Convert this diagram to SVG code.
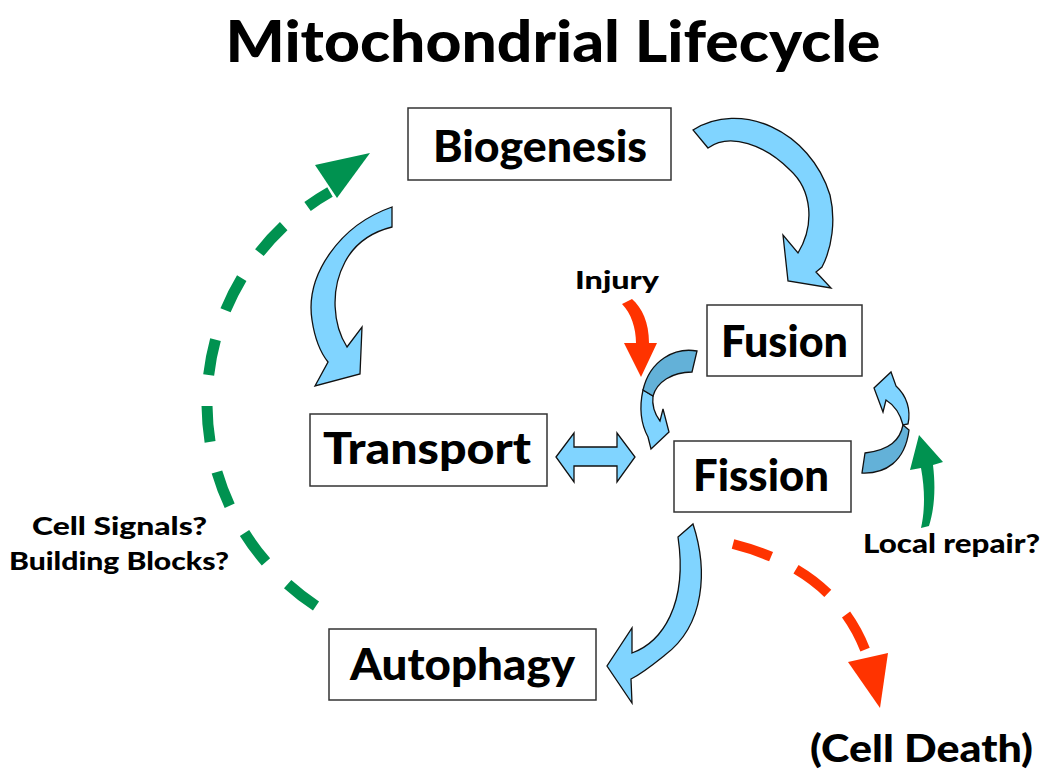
<svg xmlns="http://www.w3.org/2000/svg" width="1050" height="776" viewBox="0 0 1050 776">
<defs>
<style>
.box{fill:#ffffff;stroke:#333333;stroke-width:1.5}
.lbl{font-family:"Comic Sans MS","Lato","DejaVu Sans",sans-serif;font-weight:900;fill:#000000;text-anchor:middle}
.node{font-size:44px}
.small{font-size:25px}
.blue{fill:#80d4ff;stroke:#111111;stroke-width:1.3;stroke-linejoin:miter}
.blued{fill:#63b1d8;stroke:#111111;stroke-width:1.3}
.red{fill:#ff3300}
.green{fill:#009250}
.dashr{fill:none;stroke:#ff3300;stroke-width:10;stroke-dasharray:40 28}
.dashg{fill:none;stroke:#009250;stroke-width:11;stroke-dasharray:36 31}
</style>
</defs>
<rect width="1050" height="776" fill="#ffffff"/>
<text class="lbl" x="553" y="62" font-size="58" textLength="655" lengthAdjust="spacingAndGlyphs">Mitochondrial Lifecycle</text>

<g id="connectors">
  <!-- Biogenesis -> Fusion -->
  <path class="blue" d="M 693,130 C 740,100 810,130 830,195 C 836,220 832,248 822,267 L 816,272 L 831,288 L 788,281 L 783,235 L 798,253 C 815,225 812,190 790,170 C 765,145 730,132 708,148 Z"/>
  <!-- Biogenesis -> Transport -->
  <path class="blue" d="M 392,207 C 340,225 305,275 312,320 C 315,340 320,352 328,362 L 315,386 L 360,374 L 362,327 L 347,347 C 333,325 330,290 345,262 C 355,243 372,232 392,227 Z"/>
  <!-- Fission -> Autophagy -->
  <path class="blue" d="M 693,524 C 708,570 705,625 665,655 C 655,663 643,673 631,679 L 632,703 L 607,666 L 632,628 L 632,653 C 662,642 688,605 678,537 Z"/>
  <!-- Transport <-> Fission -->
  <path class="blue" d="M 556,457 L 574,433 L 574,447 L 617,447 L 617,433 L 635,457 L 617,482 L 617,466 L 574,466 L 574,482 Z"/>
  <!-- Fusion -> Fission (twisted) -->
  <path class="blue" d="M 643,390 C 639,408 641,424 648,437 L 651,449 L 669,432 L 663,409 L 660,421 C 654,413 652,404 653,396 Z"/>
  <path class="blued" d="M 697,351 C 675,347 650,360 643,390 L 653,396 C 657,382 672,372 692,372 Z"/>
  <!-- Fission -> Fusion (twisted) -->
  <path class="blue" d="M 908,424 C 911,410 907,396 896,386 L 891,372 L 874,388 L 883,412 L 886,400 C 894,405 900,413 903,425 Z"/>
  <path class="blued" d="M 865,453 L 862,473 C 885,474 905,462 909,430 L 903,425 C 900,440 890,450 865,453 Z"/>
  <!-- Injury arrow -->
  <path class="red" d="M 622,304 L 632,299 C 642,308 649,322 649,343 L 657,343 L 641,377 L 624,343 L 636,343 C 636,328 631,313 622,304 Z"/>
  <!-- Local repair arrow -->
  <path class="green" d="M 921,528 C 925,510 925,490 921,468 L 910,470 L 919,435 L 943,462 L 933,465 C 936,490 934,510 929,526 Z"/>
  <!-- Fission -> Cell Death (dashed) -->
  <path class="dashr" d="M 733,544 Q 835,570 866,652"/>
  <polygon class="red" points="848,662 888,653 880,708"/>
  <!-- Autophagy -> Biogenesis (dashed) -->
  <path class="dashg" d="M 316,606 A 243,243 0 0,1 330,192"/>
  <polygon class="green" points="315,165 370,153 337,198"/>
</g>

<g id="node-biogenesis">
  <rect class="box" x="408" y="108" width="263" height="72"/>
  <text class="lbl node" x="540" y="162" textLength="214" lengthAdjust="spacingAndGlyphs">Biogenesis</text>
</g>
<g id="node-fusion">
  <rect class="box" x="707" y="305" width="155" height="71"/>
  <text class="lbl node" x="784.5" y="357" textLength="127" lengthAdjust="spacingAndGlyphs">Fusion</text>
</g>
<g id="node-fission">
  <rect class="box" x="674" y="441" width="177" height="71"/>
  <text class="lbl node" x="761" y="491" textLength="136" lengthAdjust="spacingAndGlyphs">Fission</text>
</g>
<g id="node-transport">
  <rect class="box" x="310" y="414" width="237" height="72"/>
  <text class="lbl node" x="427" y="464" textLength="208" lengthAdjust="spacingAndGlyphs">Transport</text>
</g>
<g id="node-autophagy">
  <rect class="box" x="329" y="629" width="267" height="71"/>
  <text class="lbl node" x="462.5" y="680" textLength="225" lengthAdjust="spacingAndGlyphs">Autophagy</text>
</g>
<g id="label-injury">
  <text class="lbl small" x="617" y="289" textLength="84" lengthAdjust="spacingAndGlyphs">Injury</text>
</g>
<g id="label-local-repair">
  <text class="lbl" x="951.5" y="553" font-size="27" textLength="177" lengthAdjust="spacingAndGlyphs">Local repair?</text>
</g>
<g id="label-signals">
  <text class="lbl small" x="119.5" y="535" textLength="175" lengthAdjust="spacingAndGlyphs">Cell Signals?</text>
  <text class="lbl small" x="119" y="570" textLength="220" lengthAdjust="spacingAndGlyphs">Building Blocks?</text>
</g>
<g id="label-cell-death">
  <text class="lbl" x="921.5" y="762" font-size="38" textLength="223" lengthAdjust="spacingAndGlyphs">(Cell Death)</text>
</g>
</svg>
